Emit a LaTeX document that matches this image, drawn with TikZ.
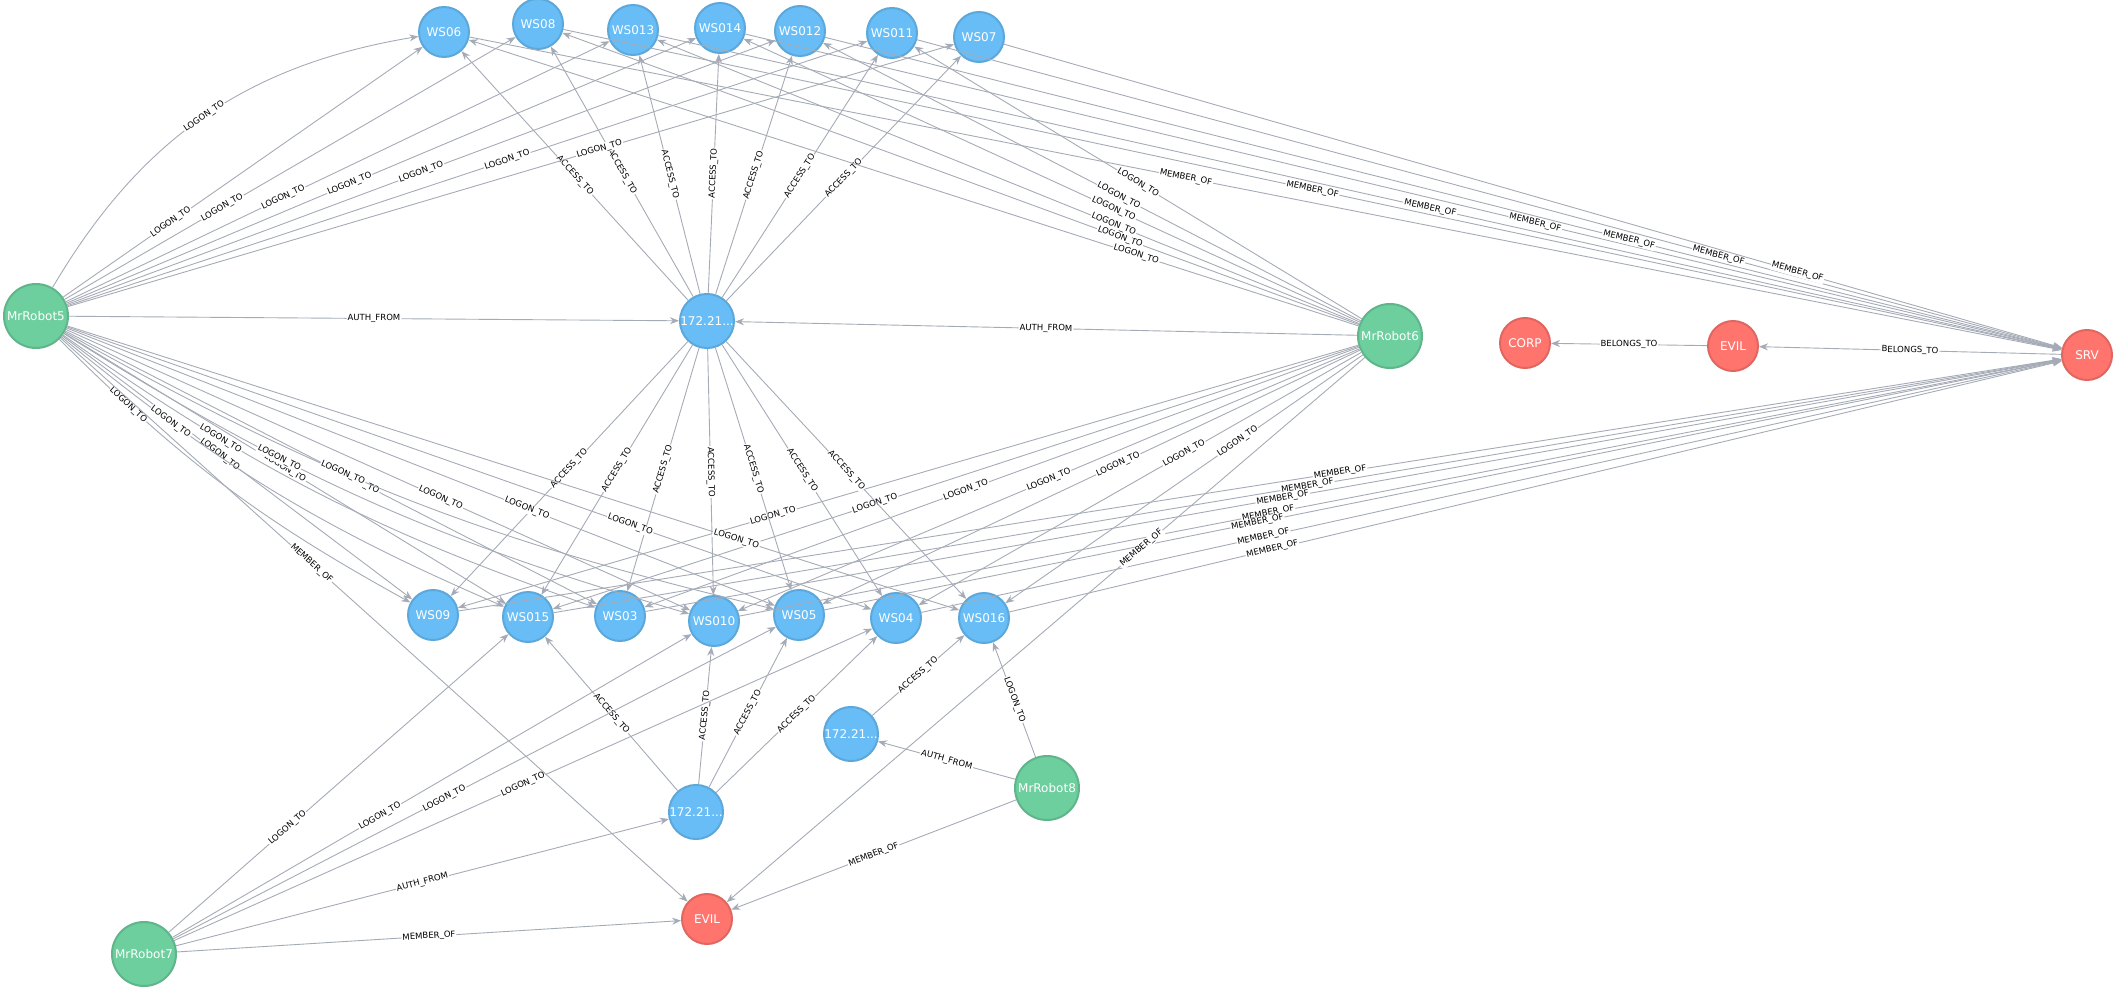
\documentclass[tikz,border=0pt]{standalone}
\usepackage{fontspec}
\setmainfont{DejaVu Sans}
\usetikzlibrary{arrows.meta}
\definecolor{wsblue}{HTML}{68BDF6}
\definecolor{wsline}{HTML}{5CA8DB}
\definecolor{usergreen}{HTML}{6DCE9E}
\definecolor{userline}{HTML}{60B58B}
\definecolor{grpred}{HTML}{FF756E}
\definecolor{grpline}{HTML}{E06760}
\definecolor{relgray}{HTML}{A5ABB6}
\begin{document}
\begin{tikzpicture}[x=1pt, y=1pt]

    % Define styles
    \tikzset{
        comp/.style = {circle, minimum size=50pt, inner sep=0pt, draw=wsline, line width=2pt, fill=wsblue, text=white, font=\fontsize{12}{12}\selectfont},
        user/.style = {circle, minimum size=64pt, inner sep=0pt, draw=userline, line width=2pt, fill=usergreen, text=white, font=\fontsize{12}{12}\selectfont},
        group/.style = {circle, minimum size=50pt, inner sep=0pt, draw=grpline, line width=2pt, fill=grpred, text=white, font=\fontsize{12}{12}\selectfont},
        rel/.style = {draw=relgray, line width=0.9pt, -{Stealth[length=9pt,width=7pt]}},
        lbl/.style = {sloped, fill=white, inner sep=1pt, text=black, font=\fontsize{8.5}{8.5}\selectfont}
    }
    \useasboundingbox (0,0) rectangle (2115,-992);

    % Nodes
    \node (ws06) [comp] at (444,-32) {WS06};
    \node (ws08) [comp] at (538,-24) {WS08};
    \node (ws013) [comp] at (633,-30) {WS013};
    \node (ws014) [comp] at (720,-28) {WS014};
    \node (ws012) [comp] at (800,-31) {WS012};
    \node (ws011) [comp] at (892,-33) {WS011};
    \node (ws07) [comp] at (979,-37) {WS07};
    \node (ws09) [comp] at (433,-615) {WS09};
    \node (ws015) [comp] at (528,-617) {WS015};
    \node (ws03) [comp] at (620,-616) {WS03};
    \node (ws010) [comp] at (714,-621) {WS010};
    \node (ws05) [comp] at (799,-615) {WS05};
    \node (ws04) [comp] at (896,-618) {WS04};
    \node (ws016) [comp] at (984,-618) {WS016};
    \node (iptop) [comp] at (707,-321) {172.21...};
    \node (ipmid) [comp] at (851,-734) {172.21...};
    \node (ipbot) [comp] at (696,-812) {172.21...};
    \node (robot5) [user] at (36,-316) {MrRobot5};
    \node (robot6) [user] at (1390,-336) {MrRobot6};
    \node (robot7) [user] at (144,-954) {MrRobot7};
    \node (robot8) [user] at (1047,-788) {MrRobot8};
    \node (corp) [group] at (1525,-343) {CORP};
    \node (evilr) [group] at (1733,-346) {EVIL};
    \node (srv) [group] at (2087,-355) {SRV};
    \node (evilb) [group] at (707,-919) {EVIL};

    % Relations
    \foreach \ws/\p in {ws06/0.3,ws08/0.35,ws013/0.4,ws014/0.45,ws012/0.5,ws011/0.55,ws07/0.6} {
        \draw [rel] (robot5) -- node [lbl, pos=\p] {LOGON\_TO} (\ws);
        \draw [rel] (iptop) -- node [lbl] {ACCESS\_TO} (\ws);
        \draw [rel] (\ws) -- node [lbl, pos=\p+0.15] {MEMBER\_OF} (srv);
    }
    \foreach \ws/\p in {ws06/0.25,ws08/0.3,ws013/0.35,ws014/0.4,ws012/0.45,ws011/0.5}
        \draw [rel] (robot6) -- node [lbl, pos=\p] {LOGON\_TO} (\ws);
    \draw [rel] (robot5) to [bend left=25] node [lbl] {LOGON\_TO} (ws06);
    \foreach \ws/\p in {ws09/0.55,ws015/0.5,ws03/0.45,ws010/0.4,ws05/0.35,ws04/0.3,ws016/0.25} {
        \draw [rel] (robot5) -- node [lbl, pos=1-\p] {LOGON\_TO} (\ws);
        \draw [rel] (iptop) -- node [lbl] {ACCESS\_TO} (\ws);
        \draw [rel] (robot6) -- node [lbl, pos=\p+0.1] {LOGON\_TO} (\ws);
        \draw [rel] (\ws) -- node [lbl, pos=\p] {MEMBER\_OF} (srv);
    }
    \foreach \ws/\p in {ws09/0.2,ws015/0.25,ws03/0.3,ws010/0.35,ws05/0.4}
        \draw [rel] (robot5) to [bend right=8] node [lbl, pos=\p] {LOGON\_TO} (\ws);
    \foreach \ws in {ws015,ws010,ws05,ws04}
        \draw [rel] (ipbot) -- node [lbl] {ACCESS\_TO} (\ws);
    \foreach \ws/\p in {ws015/0.35,ws010/0.4,ws05/0.45,ws04/0.5}
        \draw [rel] (robot7) -- node [lbl, pos=\p] {LOGON\_TO} (\ws);
    \draw [rel] (robot5) -- node [lbl] {AUTH\_FROM} (iptop);
    \draw [rel] (robot6) -- node [lbl] {AUTH\_FROM} (iptop);
    \draw [rel] (robot7) -- node [lbl] {AUTH\_FROM} (ipbot);
    \draw [rel] (robot8) -- node [lbl] {AUTH\_FROM} (ipmid);
    \draw [rel] (ipmid) -- node [lbl] {ACCESS\_TO} (ws016);
    \draw [rel] (robot8) -- node [lbl] {LOGON\_TO} (ws016);
    \draw [rel] (robot5) -- node [lbl, pos=0.4] {MEMBER\_OF} (evilb);
    \draw [rel] (robot6) -- node [lbl, pos=0.35] {MEMBER\_OF} (evilb);
    \draw [rel] (robot7) -- node [lbl] {MEMBER\_OF} (evilb);
    \draw [rel] (robot8) -- node [lbl] {MEMBER\_OF} (evilb);
    \draw [rel] (evilr) -- node [lbl] {BELONGS\_TO} (corp);
    \draw [rel] (srv) -- node [lbl] {BELONGS\_TO} (evilr);
\end{tikzpicture}
\end{document}
